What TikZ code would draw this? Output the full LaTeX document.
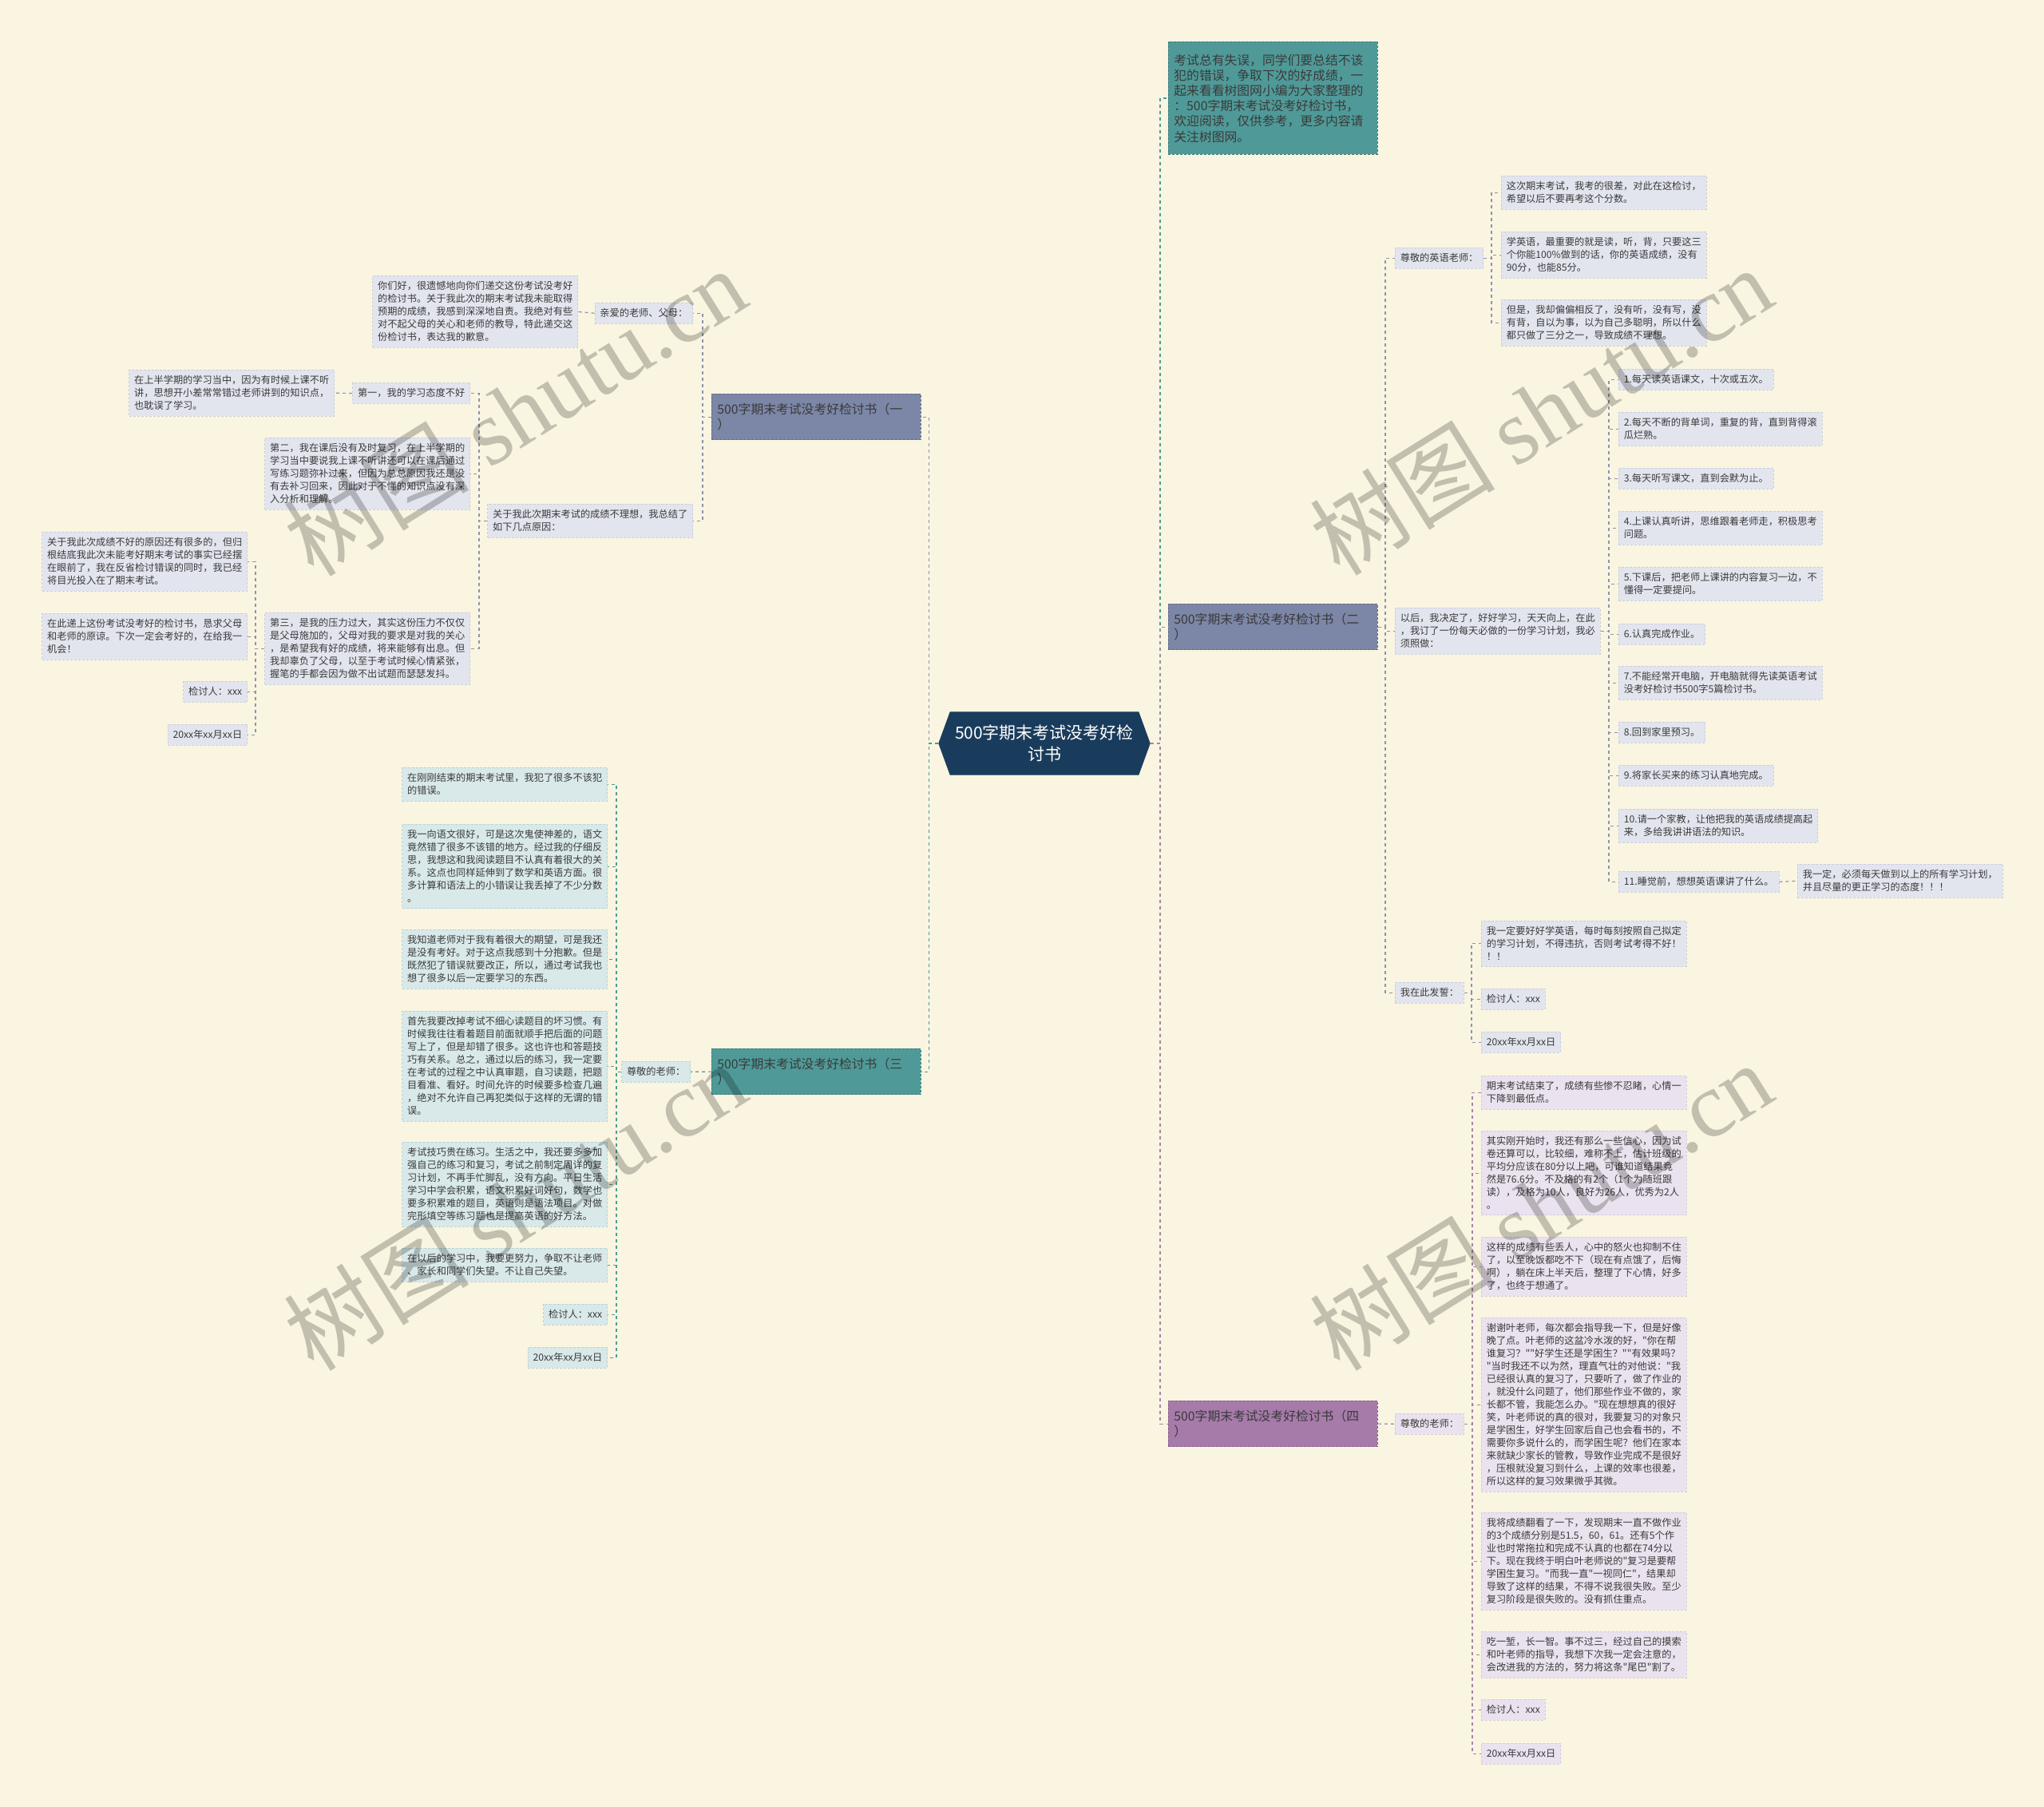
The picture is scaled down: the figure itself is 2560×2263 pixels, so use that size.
\documentclass[tikz,border=0pt]{standalone}
\usepackage{fontspec}
\newfontfamily\cjk{Noto Sans CJK SC}
\newfontfamily\wmfont{Liberation Serif}
\usetikzlibrary{shapes.symbols}

\definecolor{bgcol}{HTML}{F9F5E1}
\definecolor{ink}{HTML}{3A3A3A}
\definecolor{navy}{HTML}{1A3C5C}
\definecolor{tealb}{HTML}{4F9A98}
\definecolor{slate}{HTML}{7C86A6}
\definecolor{plum}{HTML}{A67BAA}
\definecolor{fillA}{HTML}{E3E5EE}
\definecolor{fillT}{HTML}{D9E8E9}
\definecolor{fillP}{HTML}{EAE2EE}
\definecolor{edgeA}{HTML}{CBCEDC}
\definecolor{edgeT}{HTML}{B9D4D6}
\definecolor{edgeP}{HTML}{D8CADE}
\definecolor{lineA}{HTML}{8E93AB}
\definecolor{lineT}{HTML}{4F9A98}
\definecolor{lineP}{HTML}{A883AA}

\begin{document}
\begin{tikzpicture}[x=0.5pt, y=-0.5pt,
  every node/.style={text=ink, font=\cjk\fontsize{6.1}{8}\selectfont},
  leaf/.style={draw, dash pattern=on 1.5pt off 1pt, line width=0.4pt,
    align=left, inner xsep=3.2pt, inner ysep=3.6pt},
  leafA/.style={leaf, fill=fillA, draw=edgeA},
  leafT/.style={leaf, fill=fillT, draw=edgeT},
  leafP/.style={leaf, fill=fillP, draw=edgeP},
  topic/.style={leaf, text width=124pt, inner xsep=3.5pt, inner ysep=5.8pt,
    font=\cjk\fontsize{7.9}{9.6}\selectfont, anchor=north west},
  hub/.style={signal, signal to=west and east, signal pointer angle=140,
    fill=navy, draw=navy, text=white, align=center, inner xsep=3pt,
    inner ysep=8pt, font=\cjk\fontsize{10.5}{13.5}\selectfont},
  wire/.style={dash pattern=on 2pt off 2pt, line width=0.6pt},
  wireA/.style={wire, draw=lineA},
  wireT/.style={wire, draw=lineT},
  wireP/.style={wire, draw=lineP},
  wm/.style={rotate=32, text=black, opacity=0.22,
    font=\cjk\fontsize{58}{60}\selectfont}]

  \fill[bgcol] (0,0) rectangle (2560,2263);
  \useasboundingbox (0,0) rectangle (2560,2263);

  \node[hub] (hub) at (1308,931) {500字期末考试没考好检\\讨书};

  % left side
  \node[topic, fill=slate, draw=slate!80!black] (b1) at (891,493)
    {500字期末考试没考好检讨书（一\\）};
  \node[leafA, anchor=north east] (n11) at (868,379) {亲爱的老师、父母：};
  \node[leafA, anchor=north east] (n111) at (724,345)
    {你们好，很遗憾地向你们递交这份考试没考好\\的检讨书。关于我此次的期末考试我未能取得\\预期的成绩，我感到深深地自责。我绝对有些\\对不起父母的关心和老师的教导，特此递交这\\份检讨书，表达我的歉意。};
  \node[leafA, anchor=north east] (n12) at (868,631)
    {关于我此次期末考试的成绩不理想，我总结了\\如下几点原因：};
  \node[leafA, anchor=north east] (n121) at (589,479) {第一，我的学习态度不好};
  \node[leafA, anchor=north east] (n1211) at (419,463)
    {在上半学期的学习当中，因为有时候上课不听\\讲，思想开小差常常错过老师讲到的知识点，\\也耽误了学习。};
  \node[leafA, anchor=north east] (n122) at (589,548)
    {第二，我在课后没有及时复习，在上半学期的\\学习当中要说我上课不听讲还可以在课后通过\\写练习题弥补过来，但因为总总原因我还是没\\有去补习回来，因此对于不懂的知识点没有深\\入分析和理解。};
  \node[leafA, anchor=north east] (n123) at (589,767)
    {第三，是我的压力过大，其实这份压力不仅仅\\是父母施加的，父母对我的要求是对我的关心\\，是希望我有好的成绩，将来能够有出息。但\\我却辜负了父母，以至于考试时候心情紧张，\\握笔的手都会因为做不出试题而瑟瑟发抖。};
  \node[leafA, anchor=north east] (n1231) at (310,666)
    {关于我此次成绩不好的原因还有很多的，但归\\根结底我此次未能考好期末考试的事实已经摆\\在眼前了，我在反省检讨错误的同时，我已经\\将目光投入在了期末考试。};
  \node[leafA, anchor=north east] (n1232) at (310,768)
    {在此递上这份考试没考好的检讨书，恳求父母\\和老师的原谅。下次一定会考好的，在给我一\\机会！};
  \node[leafA, anchor=north east] (n1233) at (310,853) {检讨人：xxx};
  \node[leafA, anchor=north east] (n1234) at (310,907) {20xx年xx月xx日};

  \node[topic, fill=tealb, draw=tealb!80!black] (b3) at (891,1313)
    {500字期末考试没考好检讨书（三\\）};
  \node[leafT, anchor=north east] (n31) at (865,1329) {尊敬的老师：};
  \node[leafT, anchor=north east] (n311) at (761,961)
    {在刚刚结束的期末考试里，我犯了很多不该犯\\的错误。};
  \node[leafT, anchor=north east] (n312) at (761,1032)
    {我一向语文很好，可是这次鬼使神差的，语文\\竟然错了很多不该错的地方。经过我的仔细反\\思，我想这和我阅读题目不认真有着很大的关\\系。这点也同样延伸到了数学和英语方面。很\\多计算和语法上的小错误让我丢掉了不少分数\\。};
  \node[leafT, anchor=north east] (n313) at (761,1164)
    {我知道老师对于我有着很大的期望，可是我还\\是没有考好。对于这点我感到十分抱歉。但是\\既然犯了错误就要改正，所以，通过考试我也\\想了很多以后一定要学习的东西。};
  \node[leafT, anchor=north east] (n314) at (761,1266)
    {首先我要改掉考试不细心读题目的坏习惯。有\\时候我往往看着题目前面就顺手把后面的问题\\写上了，但是却错了很多。这也许也和答题技\\巧有关系。总之，通过以后的练习，我一定要\\在考试的过程之中认真审题，自习读题，把题\\目看准、看好。时间允许的时候要多检查几遍\\，绝对不允许自己再犯类似于这样的无谓的错\\误。};
  \node[leafT, anchor=north east] (n315) at (761,1430)
    {考试技巧贵在练习。生活之中，我还要多多加\\强自己的练习和复习，考试之前制定周详的复\\习计划，不再手忙脚乱，没有方向。平日生活\\学习中学会积累，语文积累好词好句，数学也\\要多积累难的题目，英语则是语法项目。对做\\完形填空等练习题也是提高英语的好方法。};
  \node[leafT, anchor=north east] (n316) at (761,1563)
    {在以后的学习中，我要更努力，争取不让老师\\、家长和同学们失望。不让自己失望。};
  \node[leafT, anchor=north east] (n317) at (761,1633) {检讨人：xxx};
  \node[leafT, anchor=north east] (n318) at (761,1687) {20xx年xx月xx日};

  % right side
  \node[topic, fill=tealb, draw=tealb!80!black, inner ysep=7.6pt] (intro) at (1463,52)
    {考试总有失误，同学们要总结不该\\犯的错误，争取下次的好成绩，一\\起来看看树图网小编为大家整理的\\：500字期末考试没考好检讨书，\\欢迎阅读，仅供参考，更多内容请\\关注树图网。};

  \node[topic, fill=slate, draw=slate!80!black] (b2) at (1463,756)
    {500字期末考试没考好检讨书（二\\）};
  \node[leafA, anchor=north west] (n21) at (1747,310) {尊敬的英语老师：};
  \node[leafA, anchor=north west] (n211) at (1880,220)
    {这次期末考试，我考的很差，对此在这检讨，\\希望以后不要再考这个分数。};
  \node[leafA, anchor=north west] (n212) at (1880,290)
    {学英语，最重要的就是读，听，背，只要这三\\个你能100\%做到的话，你的英语成绩，没有\\90分，也能85分。};
  \node[leafA, anchor=north west] (n213) at (1880,375)
    {但是，我却偏偏相反了，没有听，没有写，没\\有背，自以为事，以为自己多聪明，所以什么\\都只做了三分之一，导致成绩不理想。};
  \node[leafA, anchor=north west] (n22) at (1747,761)
    {以后，我决定了，好好学习，天天向上，在此\\，我订了一份每天必做的一份学习计划，我必\\须照做：};
  \foreach \k/\y/\t in {
    1/462/{1.每天读英语课文，十次或五次。},
    2/516/{2.每天不断的背单词，重复的背，直到背得滚\\瓜烂熟。},
    3/586/{3.每天听写课文，直到会默为止。},
    4/640/{4.上课认真听讲，思维跟着老师走，积极思考\\问题。},
    5/710/{5.下课后，把老师上课讲的内容复习一边，不\\懂得一定要提问。},
    6/781/{6.认真完成作业。},
    7/834/{7.不能经常开电脑，开电脑就得先读英语考试\\没考好检讨书500字5篇检讨书。},
    8/904/{8.回到家里预习。},
    9/958/{9.将家长买来的练习认真地完成。},
    10/1013/{10.请一个家教，让他把我的英语成绩提高起\\来，多给我讲讲语法的知识。},
    11/1091/{11.睡觉前，想想英语课讲了什么。}}
    \node[leafA, anchor=north west] (i\k) at (2027,\y) {\t};
  \node[leafA, anchor=north west] (i11a) at (2251,1082)
    {我一定，必须每天做到以上的所有学习计划，\\并且尽量的更正学习的态度！！！};
  \node[leafA, anchor=north west] (n23) at (1747,1230) {我在此发誓：};
  \node[leafA, anchor=north west] (n231) at (1855,1153)
    {我一定要好好学英语，每时每刻按照自己拟定\\的学习计划，不得违抗，否则考试考得不好！\\！！};
  \node[leafA, anchor=north west] (n232) at (1855,1238) {检讨人：xxx};
  \node[leafA, anchor=north west] (n233) at (1855,1292) {20xx年xx月xx日};

  \node[topic, fill=plum, draw=plum!80!black] (b4) at (1463,1754)
    {500字期末考试没考好检讨书（四\\）};
  \node[leafP, anchor=north west] (n41) at (1747,1770) {尊敬的老师：};
  \node[leafP, anchor=north west] (n411) at (1855,1347)
    {期末考试结束了，成绩有些惨不忍睹，心情一\\下降到最低点。};
  \node[leafP, anchor=north west] (n412) at (1855,1416)
    {其实刚开始时，我还有那么一些信心，因为试\\卷还算可以，比较细，难称不上，估计班级的\\平均分应该在80分以上吧，可谁知道结果竟\\然是76.6分。不及格的有2个（1个为随班跟\\读），及格为10人，良好为26人，优秀为2人\\。};
  \node[leafP, anchor=north west] (n413) at (1855,1549)
    {这样的成绩有些丢人，心中的怒火也抑制不住\\了，以至晚饭都吃不下（现在有点饿了，后悔\\啊），躺在床上半天后，整理了下心情，好多\\了，也终于想通了。};
  \node[leafP, anchor=north west] (n414) at (1855,1650)
    {谢谢叶老师，每次都会指导我一下，但是好像\\晚了点。叶老师的这盆冷水泼的好，"你在帮\\谁复习？""好学生还是学困生？""有效果吗？\\"当时我还不以为然，理直气壮的对他说："我\\已经很认真的复习了，只要听了，做了作业的\\，就没什么问题了，他们那些作业不做的，家\\长都不管，我能怎么办。"现在想想真的很好\\笑，叶老师说的真的很对，我要复习的对象只\\是学困生，好学生回家后自己也会看书的，不\\需要你多说什么的，而学困生呢？他们在家本\\来就缺少家长的管教，导致作业完成不是很好\\，压根就没复习到什么，上课的效率也很差，\\所以这样的复习效果微乎其微。};
  \node[leafP, anchor=north west] (n415) at (1855,1894)
    {我将成绩翻看了一下，发现期末一直不做作业\\的3个成绩分别是51.5，60，61。还有5个作\\业也时常拖拉和完成不认真的也都在74分以\\下。现在我终于明白叶老师说的"复习是要帮\\学困生复习。"而我一直"一视同仁"，结果却\\导致了这样的结果，不得不说我很失败。至少\\复习阶段是很失败的。没有抓住重点。};
  \node[leafP, anchor=north west] (n416) at (1855,2043)
    {吃一堑，长一智。事不过三，经过自己的摸索\\和叶老师的指导，我想下次我一定会注意的，\\会改进我的方法的，努力将这条"尾巴"割了。};
  \node[leafP, anchor=north west] (n417) at (1855,2128) {检讨人：xxx};
  \node[leafP, anchor=north west] (n418) at (1855,2183) {20xx年xx月xx日};

  % connectors
  \draw[wireA] (hub.west) -| ([xshift=5pt]b1.east) -- (b1.east);
  \draw[wireT] (hub.west) -| ([xshift=5pt]b3.east) -- (b3.east);
  \draw[wireT] (hub.east) -| ([xshift=-5pt]intro.west) -- (intro.west);
  \draw[wireA] (hub.east) -| ([xshift=-5pt]b2.west) -- (b2.west);
  \draw[wireP] (hub.east) -| ([xshift=-5pt]b4.west) -- (b4.west);

  \foreach \c in {n11,n12}
    \draw[wireA] (b1.west) -| ([xshift=6pt]\c.east) -- (\c.east);
  \draw[wireA] (n11.west) -- (n111.east);
  \foreach \c in {n121,n122,n123}
    \draw[wireA] (n12.west) -| ([xshift=5.5pt]\c.east) -- (\c.east);
  \draw[wireA] (n121.west) -- (n1211.east);
  \foreach \c in {n1231,n1232,n1233,n1234}
    \draw[wireA] (n123.west) -| ([xshift=5pt]\c.east) -- (\c.east);

  \draw[wireT] (b3.west) -- (n31.east);
  \foreach \c in {n311,n312,n313,n314,n315,n316,n317,n318}
    \draw[wireT] (n31.west) -| ([xshift=5.5pt]\c.east) -- (\c.east);

  \foreach \c in {n21,n22,n23}
    \draw[wireA] (b2.east) -| ([xshift=-6pt]\c.west) -- (\c.west);
  \foreach \c in {n211,n212,n213}
    \draw[wireA] (n21.east) -| ([xshift=-6pt]\c.west) -- (\c.west);
  \foreach \k in {1,...,11}
    \draw[wireA] (n22.east) -| ([xshift=-6pt]i\k.west) -- (i\k.west);
  \draw[wireA] (i11.east) -- (i11a.west);
  \foreach \c in {n231,n232,n233}
    \draw[wireA] (n23.east) -| ([xshift=-6pt]\c.west) -- (\c.west);

  \draw[wireP] (b4.east) -- (n41.west);
  \foreach \c in {n411,n412,n413,n414,n415,n416,n417,n418}
    \draw[wireP] (n41.east) -| ([xshift=-5.5pt]\c.west) -- (\c.west);

  % watermarks
  \foreach \p in {(645,515),(1930,514),(645,1510),(1930,1510)}
    \node[wm] at \p {树图 {\wmfont shutu.cn}};
\end{tikzpicture}
\end{document}
